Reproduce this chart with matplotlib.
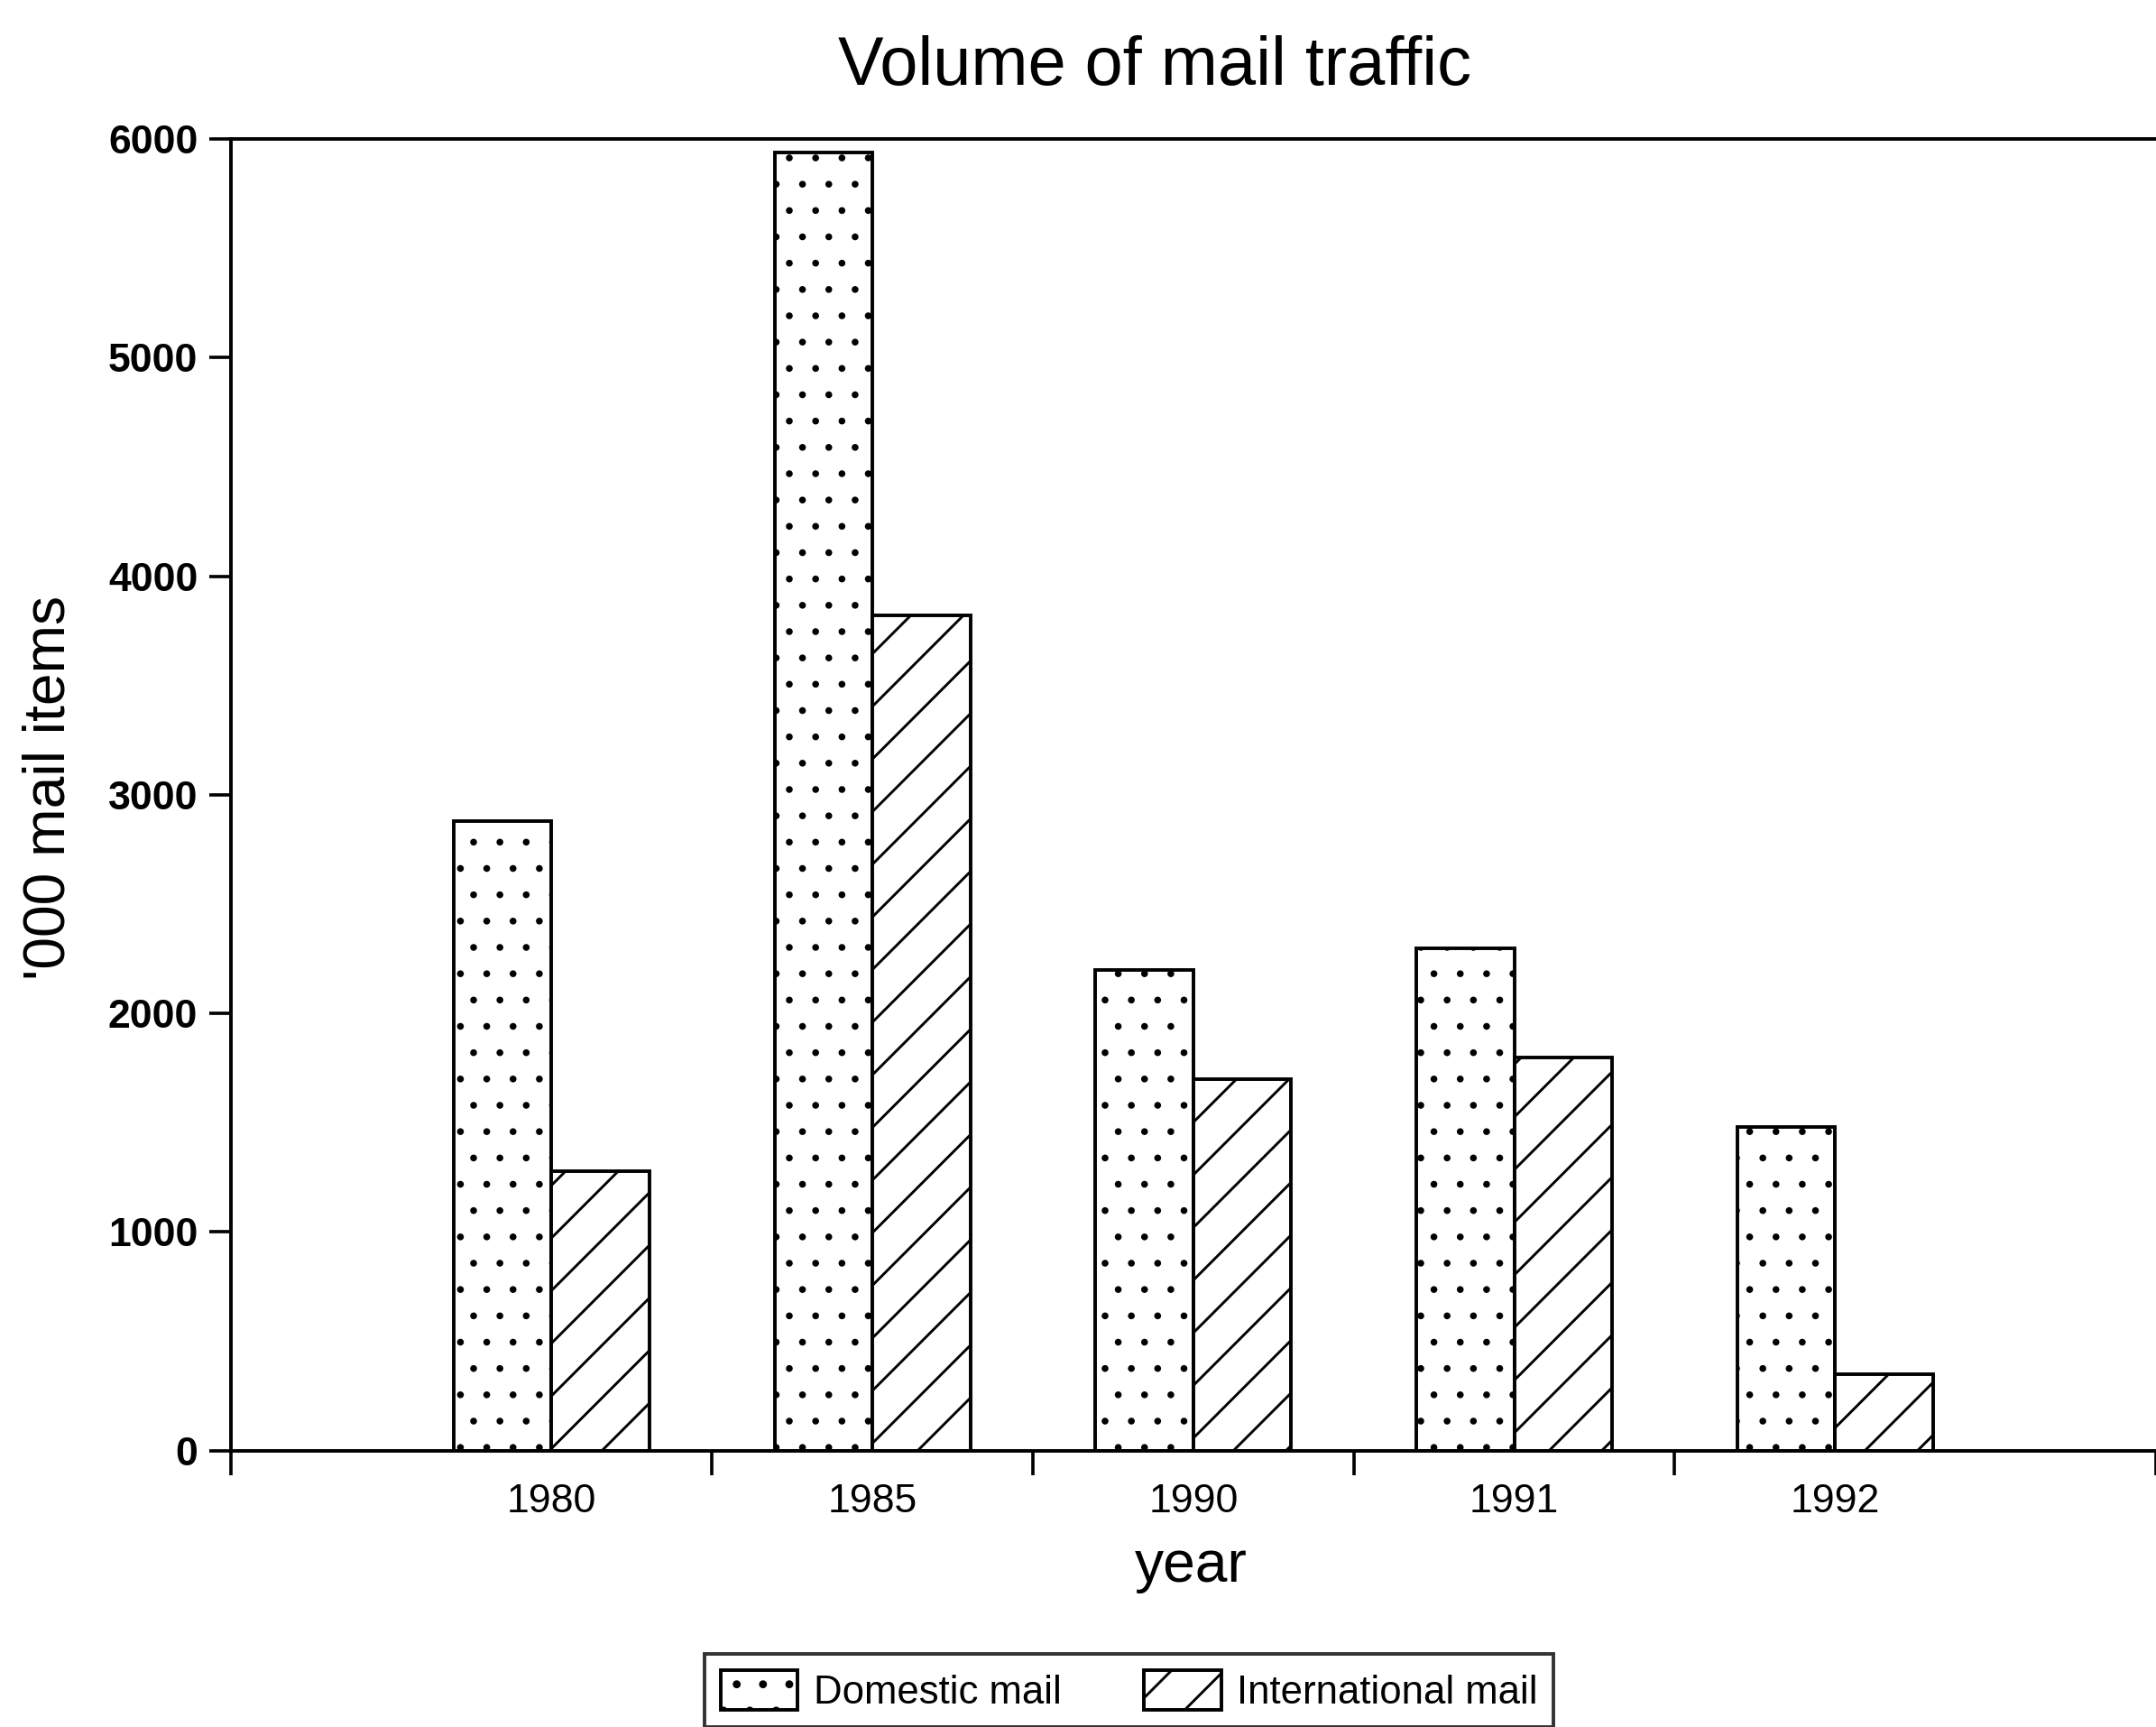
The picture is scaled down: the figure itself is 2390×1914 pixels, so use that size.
import matplotlib.pyplot as plt
import numpy as np

# values ('000 mail items)
years = ['1980', '1985', '1990', '1991', '1992']
domestic = [2880, 5940, 2200, 2300, 1480]
international = [1280, 3820, 1700, 1800, 350]

plt.rcParams['font.family'] = ['Liberation Sans', 'DejaVu Sans']
plt.rcParams['hatch.color'] = 'black'

dpi = 350
fig = plt.figure(figsize=(2390 / dpi, 1914 / dpi), dpi=dpi)
ax = fig.add_axes([0.107, 0.16, 0.893, 0.7595])

x = np.arange(1, len(years) + 1)
w = 0.305

plt.rcParams['hatch.linewidth'] = 0.35
b1 = ax.bar(x - w / 2, domestic, w, color='white', edgecolor='black',
            hatch='..', linewidth=0.8, label='Domestic mail')
plt.rcParams['hatch.linewidth'] = 0.6
b2 = ax.bar(x + w / 2, international, w, color='white', edgecolor='black',
            hatch='//', linewidth=0.8, label='International mail')
for bars, hlw in [(b1, 0.35), (b2, 0.6)]:
    for p in bars:
        if hasattr(p, 'set_hatch_linewidth'):
            p.set_hatch_linewidth(hlw)

ax.set_xlim(0, 6)
ax.set_ylim(0, 6000)
ax.set_xticks(x)
ax.set_xticklabels(years)
ax.set_xticks([0, 1.5, 2.5, 3.5, 4.5, 6], minor=True)
ax.tick_params(axis='x', which='major', length=0, pad=7.5, labelsize=9.2)
ax.tick_params(axis='x', which='minor', length=5.5, width=0.75,
               direction='out')
ax.set_yticks(range(0, 7000, 1000))
ax.tick_params(axis='y', length=5, width=0.75, pad=2.5, labelsize=9.2)
for lab in ax.get_yticklabels():
    lab.set_fontweight('bold')

ax.spines['right'].set_visible(False)
for s in ['left', 'top', 'bottom']:
    ax.spines[s].set_linewidth(0.8)

fig.text(0.5356, 0.961, 'Volume of mail traffic', fontsize=15.6,
         ha='center', va='center')
fig.text(0.023, 0.544, "'000 mail items", fontsize=13.2, rotation=90,
         ha='center', va='center')
fig.text(0.5523, 0.093, 'year', fontsize=13.2, ha='center', va='center')

leg = fig.legend(loc='upper center', bbox_to_anchor=(0.5237, 0.0423),
                 ncol=2, frameon=True, fancybox=False, edgecolor='black',
                 fontsize=9, handlelength=1.95, handleheight=1.2,
                 handletextpad=0.4, columnspacing=2.1, borderpad=0.4,
                 borderaxespad=0)
leg.get_frame().set_linewidth(0.8)

fig.savefig('out.png', dpi=dpi)
